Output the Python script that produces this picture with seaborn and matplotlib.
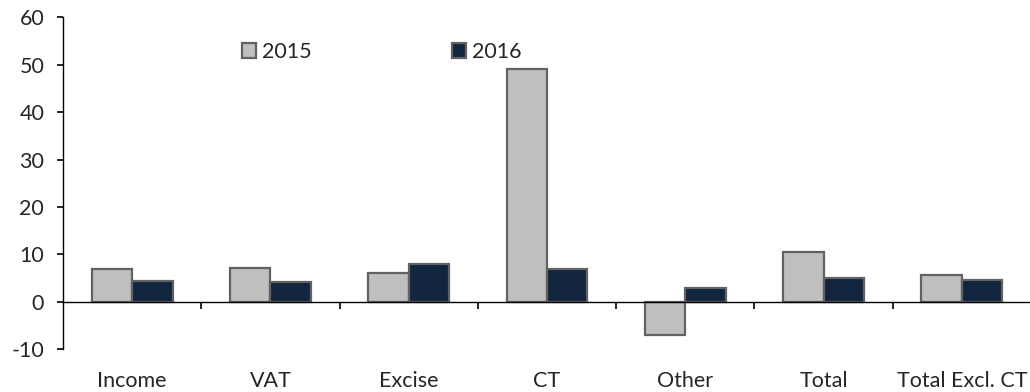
import matplotlib
matplotlib.use("Agg")
import matplotlib.pyplot as plt
import matplotlib.transforms as mtransforms
import seaborn as sns
import pandas as pd

# Year-on-year growth by revenue head (%)
categories = ["Income", "VAT", "Excise", "CT", "Other", "Total", "Total Excl. CT"]
growth_2015 = [7.0, 7.2, 6.1, 49.0, -7.0, 10.5, 5.7]
growth_2016 = [4.5, 4.1, 8.0, 7.0, 2.9, 5.0, 4.7]
years = ["2015", "2016"]
y_ticks = [-10, 0, 10, 20, 30, 40, 50, 60]

df = pd.DataFrame({
    "category": categories * 2,
    "value": growth_2015 + growth_2016,
    "year": [years[0]] * len(categories) + [years[1]] * len(categories),
})

FS = 15.5

sns.set_style("white")
plt.rcParams["font.family"] = ["Lato", "DejaVu Sans"]
plt.rcParams["font.size"] = FS
plt.rcParams["axes.unicode_minus"] = False

fig = plt.figure(figsize=(10.3, 3.92), dpi=100)
ax = fig.add_axes([63 / 1030, 1 - 349.3 / 392, 968 / 1030, (349.3 - 17.3) / 392])

palette = {"2015": "#BFBFBF", "2016": "#11253F"}
sns.barplot(
    data=df, x="category", y="value", hue="year", order=categories,
    hue_order=years, palette=palette, saturation=1, width=0.585,
    edgecolor="#626262", linewidth=1.6, ax=ax,
)

handles, labels = ax.get_legend_handles_labels()
ax.get_legend().remove()

ax.set_xlim(-0.5, len(categories) - 0.5)
ax.set_ylim(-10, 60)
ax.set_yticks(y_ticks)
ax.set_xlabel("")
ax.set_ylabel("")

# Spines: left axis plus a zero baseline
for side in ["top", "right"]:
    ax.spines[side].set_visible(False)
ax.spines["bottom"].set_position(("data", 0))
for side in ["left", "bottom"]:
    ax.spines[side].set_color("black")
    ax.spines[side].set_linewidth(1.0)

# Category boundary ticks on the baseline, labels placed below the plot
ax.set_xticks([i + 0.5 for i in range(len(categories) - 1)])
ax.set_xticklabels([])
ax.tick_params(axis="x", direction="out", length=5, width=1.2, color="black", bottom=True)
ax.tick_params(axis="y", direction="out", length=4.5, width=1.2, color="black",
               left=True, pad=9, labelsize=FS)

trans = mtransforms.blended_transform_factory(ax.transData, ax.transAxes)
for i, name in enumerate(categories):
    ax.text(i, -0.1136, name, transform=trans, ha="center", va="baseline", fontsize=FS)

fig.legend(
    handles, labels, loc="center left", bbox_to_anchor=(223 / 1030, 1 - 52 / 392),
    ncol=2, frameon=False, handlelength=0.65, handleheight=0.65,
    handletextpad=0.28, columnspacing=6.5, fontsize=FS,
)

fig.savefig("out.png", dpi=100)
